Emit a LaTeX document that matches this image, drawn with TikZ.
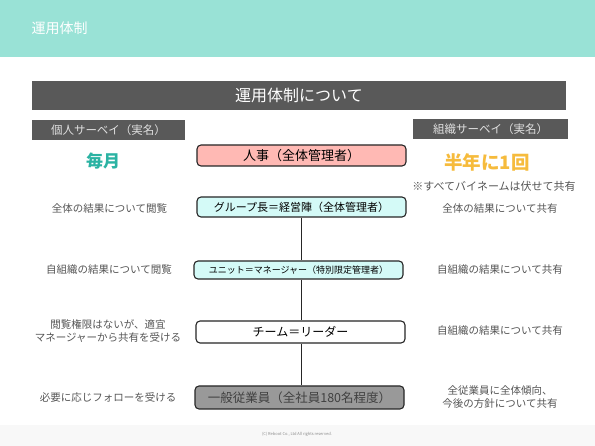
\documentclass[tikz,border=0pt]{standalone}
\usepackage{fontspec}
\setmainfont{Noto Sans CJK JP}
\setsansfont{Noto Sans CJK JP}
\definecolor{headteal}{HTML}{99E2D6}
\definecolor{bannergray}{HTML}{595959}
\definecolor{labelfg}{HTML}{E0E0E0}
\definecolor{teal2}{HTML}{2BB3A3}
\definecolor{gold}{HTML}{F6BB3C}
\definecolor{pinkfill}{HTML}{FFB9B4}
\definecolor{cyanfill}{HTML}{D4FAF7}
\definecolor{grayfill}{HTML}{999999}
\definecolor{sidetext}{HTML}{555555}
\definecolor{footbg}{HTML}{F8F8F8}
\tikzset{
  rolebox/.style={draw=black!85, line width=1.1pt, rounded corners=4pt, minimum width=209pt, inner sep=0pt, anchor=center},
  sidelbl/.style={text=sidetext, font=\fontsize{10.5}{13}\selectfont, align=center, anchor=center},
  tagbox/.style={fill=bannergray, text=labelfg, font=\fontsize{11.5}{13}\selectfont, minimum height=20pt, inner sep=0pt, anchor=center},
  link/.style={line width=1.1pt, draw=black!85},
}
\begin{document}
\begin{tikzpicture}[x=1pt,y=-1pt]
\useasboundingbox (0,0) rectangle (595,446);
\fill[white] (0,0) rectangle (595,446);
% header
\fill[headteal] (0,0) rectangle (595,57);
\node[text=white, font=\fontsize{14}{16}\selectfont, anchor=west] (title) at (28,28) {運用体制};
% footer
\fill[footbg] (0,425) rectangle (595,446);
\node[text=black!45, font=\fontsize{4}{5}\selectfont] (foot) at (297,434) {(C) Reboot Co., Ltd All rights reserved.};
% banner
\node[fill=bannergray, text=white, font=\fontsize{16}{18}\selectfont, minimum width=534pt, minimum height=29pt, inner sep=0pt] (banner) at (299,95.5) {運用体制について};
% tags
\node[tagbox, minimum width=153pt] (ltag) at (108.5,130) {個人サーベイ（実名）};
\node[tagbox, minimum width=155pt] (rtag) at (490.5,129) {組織サーベイ（実名）};
\node[text=teal2, font=\fontsize{17}{19}\selectfont\bfseries] (monthly) at (103,161) {毎月};
\node[text=gold, font=\fontsize{18.5}{20}\selectfont\bfseries] (half) at (487,162) {半年に1回};
\node[text=sidetext, font=\fontsize{11}{13}\selectfont] (note) at (494,186) {※すべてバイネームは伏せて共有};
% role boxes
\node[rolebox, fill=pinkfill, minimum height=21pt, font=\fontsize{13}{15}\selectfont] (hr) at (301.5,155.5) {人事（全体管理者）};
\node[rolebox, fill=cyanfill, minimum height=20pt, font=\fontsize{11}{13}\selectfont] (grp) at (301.5,207) {グループ長＝経営陣（全体管理者）};
\node[rolebox, fill=cyanfill, minimum height=18pt, font=\fontsize{9}{11}\selectfont] (unit) at (298.5,270) {ユニット＝マネージャー（特別限定管理者）};
\node[rolebox, fill=white, minimum height=22pt, font=\fontsize{12}{14}\selectfont] (team) at (300.5,332) {チーム＝リーダー};
\node[rolebox, fill=grayfill, text=black!75, minimum height=23pt, font=\fontsize{12.5}{15}\selectfont] (emp) at (299.5,397.5) {一般従業員（全社員180名程度）};
% connectors
\draw[link] (grp.south) -- (unit.north -| grp.south);
\draw[link] (unit.south -| grp.south) -- (team.north -| grp.south);
\draw[link] (team.south -| grp.south) -- (emp.north -| grp.south);
% left texts
\node[sidelbl] (l1) at (109.5,209) {全体の結果について閲覧};
\node[sidelbl] (l2) at (109,270) {自組織の結果について閲覧};
\node[sidelbl] (l3) at (108,331) {閲覧権限はないが、適宜\\マネージャーから共有を受ける};
\node[sidelbl] (l4) at (108,397) {必要に応じフォローを受ける};
% right texts
\node[sidelbl] (r1) at (500,209) {全体の結果について共有};
\node[sidelbl] (r2) at (500,270) {自組織の結果について共有};
\node[sidelbl] (r3) at (500,331) {自組織の結果について共有};
\node[sidelbl] (r4) at (500,397) {全従業員に全体傾向、\\今後の方針について共有};
\end{tikzpicture}
\end{document}
